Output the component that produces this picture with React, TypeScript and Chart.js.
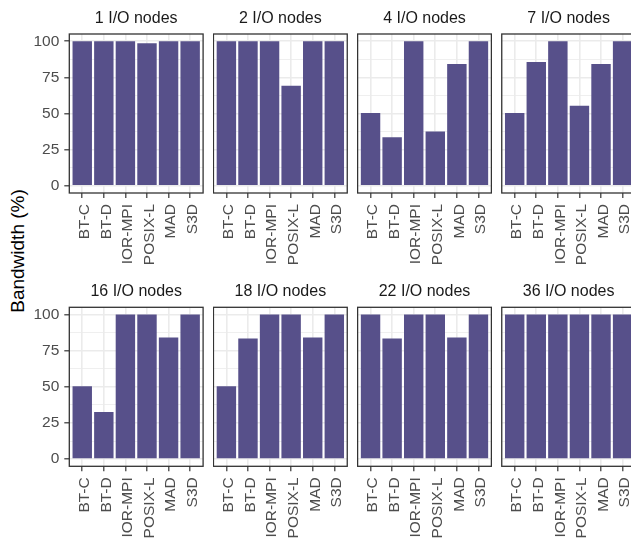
import React, { useEffect, useRef } from "react";
import { Chart, registerables } from "chart.js";

Chart.register(...registerables);

// ---------- data ----------
const categories = ["BT-C", "BT-D", "IOR-MPI", "POSIX-L", "MAD", "S3D"];
const panelTitles = [
  "1 I/O nodes",
  "2 I/O nodes",
  "4 I/O nodes",
  "7 I/O nodes",
  "16 I/O nodes",
  "18 I/O nodes",
  "22 I/O nodes",
  "36 I/O nodes",
];
const io1 = [100, 100, 100, 98.6, 100, 100];
const io2 = [100, 100, 100, 69.2, 100, 100];
const io4 = [50.4, 33.5, 100, 37.6, 84.2, 100];
const io7 = [50.4, 85.6, 100, 55.4, 84.2, 100];
const io16 = [50.3, 32.6, 100, 100, 84.1, 100];
const io18 = [50.3, 83.4, 100, 100, 84.1, 100];
const io22 = [100, 83.4, 100, 100, 84.1, 100];
const io36 = [100, 100, 100, 100, 100, 100];
const panelValues = [io1, io2, io4, io7, io16, io18, io22, io36];
const yMajorTicks = [0, 25, 50, 75, 100];
const yMinorTicks = [12.5, 37.5, 62.5, 87.5];
const yAxisLabel = "Bandwidth (%)";

// ---------- style / layout ----------
const FONT = "'Liberation Sans', Arial, Helvetica, sans-serif";
const BAR_COLOR = "#57508A";
const GRID_COLOR = "#EBEBEB";
const DARK = "#333333";
const AREA_LEFT0 = 69.3;
const COL_STEP = 144.15;
const AREA_W = 133.8;
const ROW_TOPS = [34, 307.3];
const AREA_H = 159;
const TITLE_H = 34;
const XAXIS_H = 79;
const YAXIS_W = 40;

Chart.defaults.font.family = FONT;

type PanelProps = { title: string; values: number[]; col: number; row: number };

function Panel({ title, values, col, row }: PanelProps) {
  const ref = useRef<HTMLCanvasElement | null>(null);
  const showY = col === 0;
  const yW = showY ? YAXIS_W : 0;
  const areaLeft = AREA_LEFT0 + col * COL_STEP;
  const areaTop = ROW_TOPS[row];
  const rawLeft = areaLeft - yW;
  const left = Math.floor(rawLeft);
  const padLeft = rawLeft - left;
  const width = Math.ceil(padLeft + yW + AREA_W);
  const padRight = width - padLeft - yW - AREA_W;
  const rawTop = areaTop - TITLE_H;
  const top = Math.floor(rawTop);
  const padTop = rawTop - top;
  const height = Math.ceil(padTop + TITLE_H + AREA_H + XAXIS_H);
  const padBottom = height - (padTop + TITLE_H + AREA_H + XAXIS_H);

  useEffect(() => {
    if (!ref.current) return;
    const isMajor = (v: number) => yMajorTicks.includes(v);
    const chart = new Chart(ref.current, {
      type: "bar",
      data: {
        datasets: [
          {
            data: values.map((v, i) => ({ x: i, y: v })),
            backgroundColor: BAR_COLOR,
            borderWidth: 0,
            categoryPercentage: 1,
            barPercentage: 0.9,
          },
        ],
      },
      options: {
        animation: false,
        responsive: true,
        maintainAspectRatio: false,
        layout: {
          padding: { left: padLeft, right: padRight, top: padTop, bottom: padBottom },
        },
        plugins: {
          legend: { display: false },
          tooltip: { enabled: false },
          title: {
            display: true,
            fullSize: false,
            text: title,
            color: "#1A1A1A",
            font: { size: 16, weight: "normal", family: FONT, lineHeight: 1.2 },
            padding: { top: 8.9, bottom: 5.9 },
          },
        },
        scales: {
          x: {
            type: "linear",
            min: -0.6,
            max: categories.length - 1 + 0.6,
            bounds: "data",
            offset: false,
            afterBuildTicks: (s: any) => {
              s.ticks = categories.map((_, i) => ({ value: i }));
            },
            afterFit: (s: any) => {
              s.height = XAXIS_H;
              s.paddingLeft = 0;
              s.paddingRight = 0;
            },
            grid: {
              offset: false,
              color: GRID_COLOR,
              lineWidth: 1.6,
              drawTicks: true,
              tickLength: 5,
              tickColor: DARK,
              tickWidth: 1.2,
            },
            border: { display: false },
            ticks: {
              autoSkip: false,
              minRotation: 90,
              maxRotation: 90,
              padding: 6,
              labelOffset: 2.5,
              color: "#4D4D4D",
              font: { size: 15.5, family: FONT },
              callback: (v: any) => categories[v as number] ?? "",
            },
          },
          y: {
            type: "linear",
            min: -5,
            max: 105,
            bounds: "data",
            afterBuildTicks: (s: any) => {
              s.ticks = [...yMajorTicks, ...yMinorTicks]
                .sort((a, b) => a - b)
                .map((v) => ({ value: v }));
            },
            afterFit: (s: any) => {
              s.width = yW;
              s.paddingTop = 0;
              s.paddingBottom = 0;
            },
            grid: {
              color: GRID_COLOR,
              lineWidth: (ctx: any) => (ctx.tick && isMajor(ctx.tick.value) ? 1.6 : 0.8),
              drawTicks: showY,
              tickLength: 5,
              tickColor: (ctx: any) =>
                ctx.tick && isMajor(ctx.tick.value) ? DARK : "rgba(0,0,0,0)",
              tickWidth: 1.2,
            },
            border: { display: false },
            ticks: {
              display: showY,
              autoSkip: false,
              padding: 5,
              color: "#4D4D4D",
              font: { size: 15.5, family: FONT },
              callback: (v: any) => (isMajor(v as number) ? String(v) : ""),
            },
          },
        },
      },
      plugins: [
        {
          id: "panelBorder",
          afterDraw(c: any) {
            const { ctx, chartArea } = c;
            ctx.save();
            ctx.strokeStyle = DARK;
            ctx.lineWidth = 1.3;
            ctx.strokeRect(
              chartArea.left,
              chartArea.top,
              chartArea.right - chartArea.left,
              chartArea.bottom - chartArea.top
            );
            ctx.restore();
          },
        },
      ],
    } as any);
    return () => chart.destroy();
  }, [title, values, col, row]);

  return (
    <div style={{ position: "absolute", left, top, width, height }}>
      <canvas ref={ref} />
    </div>
  );
}

export default function App() {
  return (
    <div
      style={{
        position: "absolute",
        left: 0,
        top: 0,
        width: 631,
        height: 542,
        overflow: "hidden",
        background: "#FFFFFF",
      }}
    >
      {panelTitles.map((t, i) => (
        <Panel key={t} title={t} values={panelValues[i]} col={i % 4} row={Math.floor(i / 4)} />
      ))}
      <div
        style={{
          position: "absolute",
          left: 18,
          top: 251,
          transform: "translate(-50%, -50%) rotate(-90deg)",
          fontFamily: FONT,
          fontSize: 19,
          color: "#000000",
          whiteSpace: "nowrap",
        }}
      >
        {yAxisLabel}
      </div>
    </div>
  );
}
